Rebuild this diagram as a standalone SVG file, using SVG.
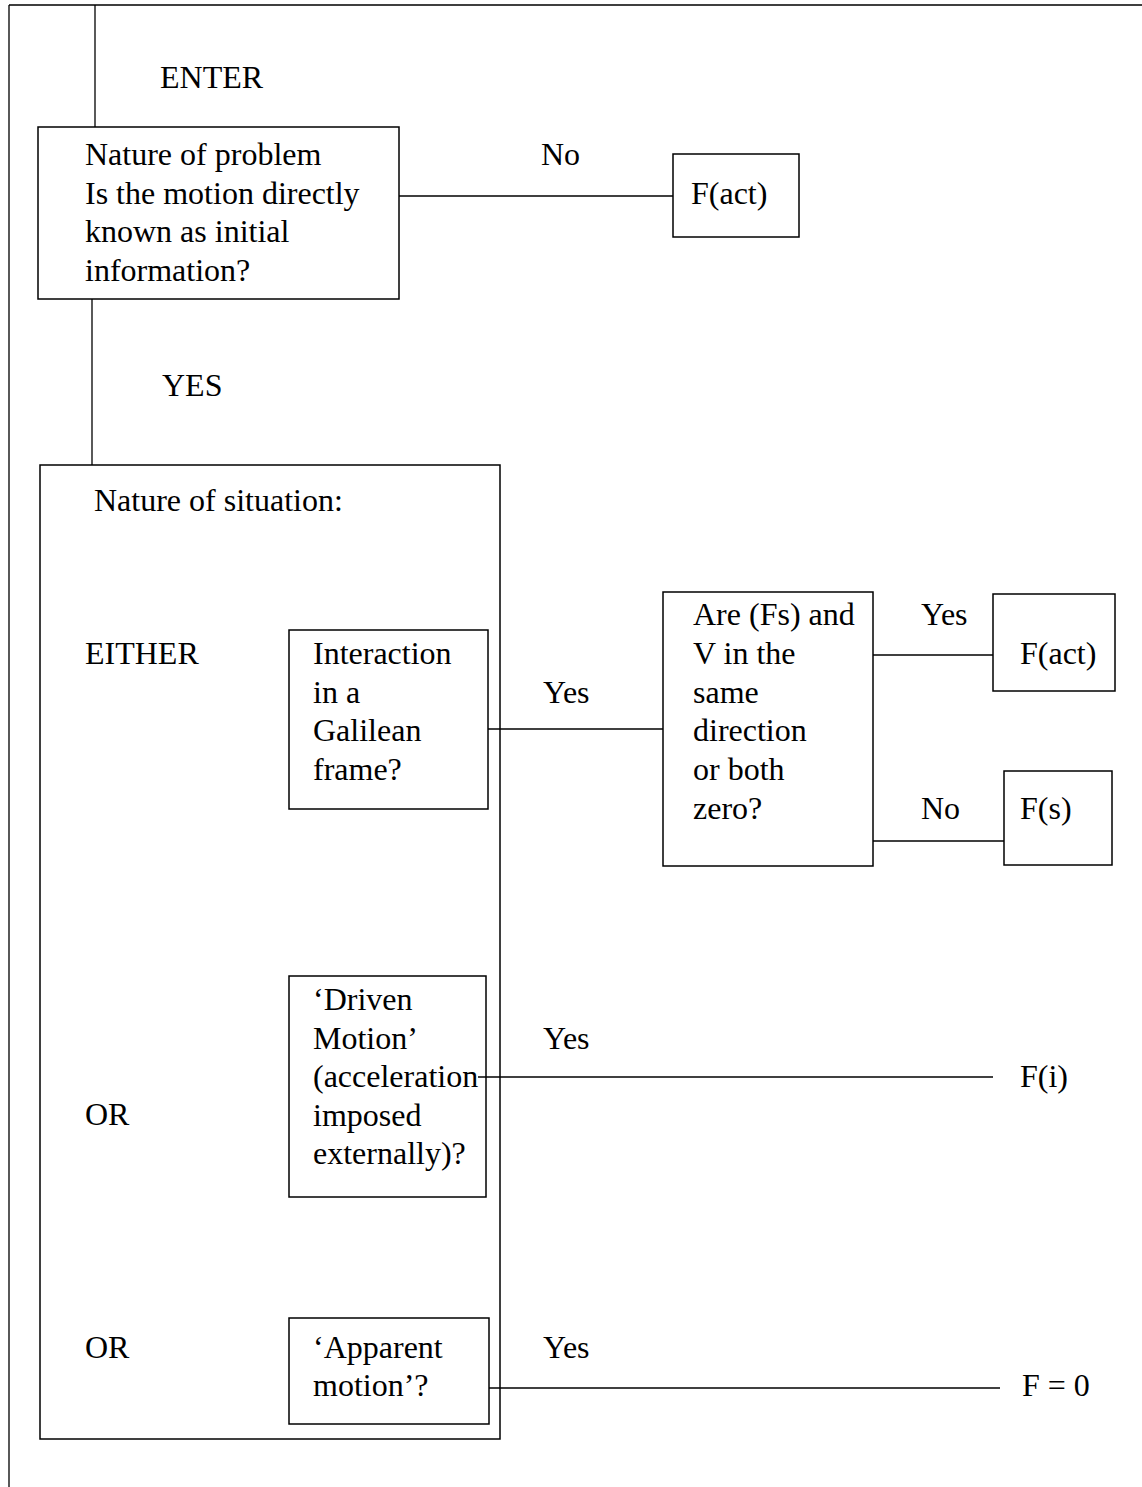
<svg xmlns="http://www.w3.org/2000/svg" width="1142" height="1487" viewBox="0 0 1142 1487">
<style>
.b{fill:none;stroke:#000;stroke-width:1.5}
.l{fill:none;stroke:#000;stroke-width:1.3}
text{font-family:"Liberation Serif","Times New Roman",serif;font-size:32px;fill:#000}
</style>
<rect width="1142" height="1487" fill="#fff"/>
<g id="frame">
<path class="l" d="M9,5 H1142 M9,5 V1487"/>
</g>
<g id="connectors">
<path class="l" d="M95,5 V127"/>
<path class="l" d="M399,196 H673"/>
<path class="l" d="M92,299 V465"/>
<path class="l" d="M488,729 H663"/>
<path class="l" d="M873,655 H993"/>
<path class="l" d="M873,841 H1004"/>
<path class="l" d="M478,1077 H993"/>
<path class="l" d="M489,1388 H1000"/>
</g>
<g id="labels">
<text x="160" y="88">ENTER</text>
<text x="541" y="165">No</text>
<text x="162" y="396">YES</text>
<text x="543" y="703">Yes</text>
<text x="921" y="625">Yes</text>
<text x="921" y="819">No</text>
<text x="543" y="1049">Yes</text>
<text x="543" y="1358">Yes</text>
</g>
<g id="problem">
<rect class="b" x="38" y="127" width="361" height="172"/>
<text x="85" y="165">Nature of problem</text>
<text x="85" y="204">Is the motion directly</text>
<text x="85" y="242">known as initial</text>
<text x="85" y="281">information?</text>
</g>
<g id="fact1">
<rect class="b" x="673" y="154" width="126" height="83"/>
<text x="691" y="204">F(act)</text>
</g>
<g id="situation">
<rect class="b" x="40" y="465" width="460" height="974"/>
<text x="94" y="511">Nature of situation:</text>
<text x="85" y="664">EITHER</text>
<text x="85" y="1125">OR</text>
<text x="85" y="1358">OR</text>
</g>
<g id="interaction">
<rect class="b" x="289" y="630" width="199" height="179"/>
<text x="313" y="664">Interaction</text>
<text x="313" y="703">in a</text>
<text x="313" y="741">Galilean</text>
<text x="313" y="780">frame?</text>
</g>
<g id="direction">
<rect class="b" x="663" y="592" width="210" height="274"/>
<text x="693" y="625">Are (Fs) and</text>
<text x="693" y="664">V in the</text>
<text x="693" y="703">same</text>
<text x="693" y="741">direction</text>
<text x="693" y="780">or both</text>
<text x="693" y="819">zero?</text>
</g>
<g id="fact2">
<rect class="b" x="993" y="594" width="122" height="97"/>
<text x="1020" y="664">F(act)</text>
</g>
<g id="fs">
<rect class="b" x="1004" y="771" width="108" height="94"/>
<text x="1020" y="819">F(s)</text>
</g>
<g id="driven">
<rect class="b" x="289" y="976" width="197" height="221"/>
<text x="313" y="1010">‘Driven</text>
<text x="313" y="1049">Motion’</text>
<text x="313" y="1087">(acceleration</text>
<text x="313" y="1126">imposed</text>
<text x="313" y="1164">externally)?</text>
</g>
<g id="fi">
<text x="1020" y="1087">F(i)</text>
</g>
<g id="apparent">
<rect class="b" x="289" y="1318" width="200" height="106"/>
<text x="313" y="1358">‘Apparent</text>
<text x="313" y="1396">motion’?</text>
</g>
<g id="f0">
<text x="1022" y="1396">F = 0</text>
</g>
</svg>
